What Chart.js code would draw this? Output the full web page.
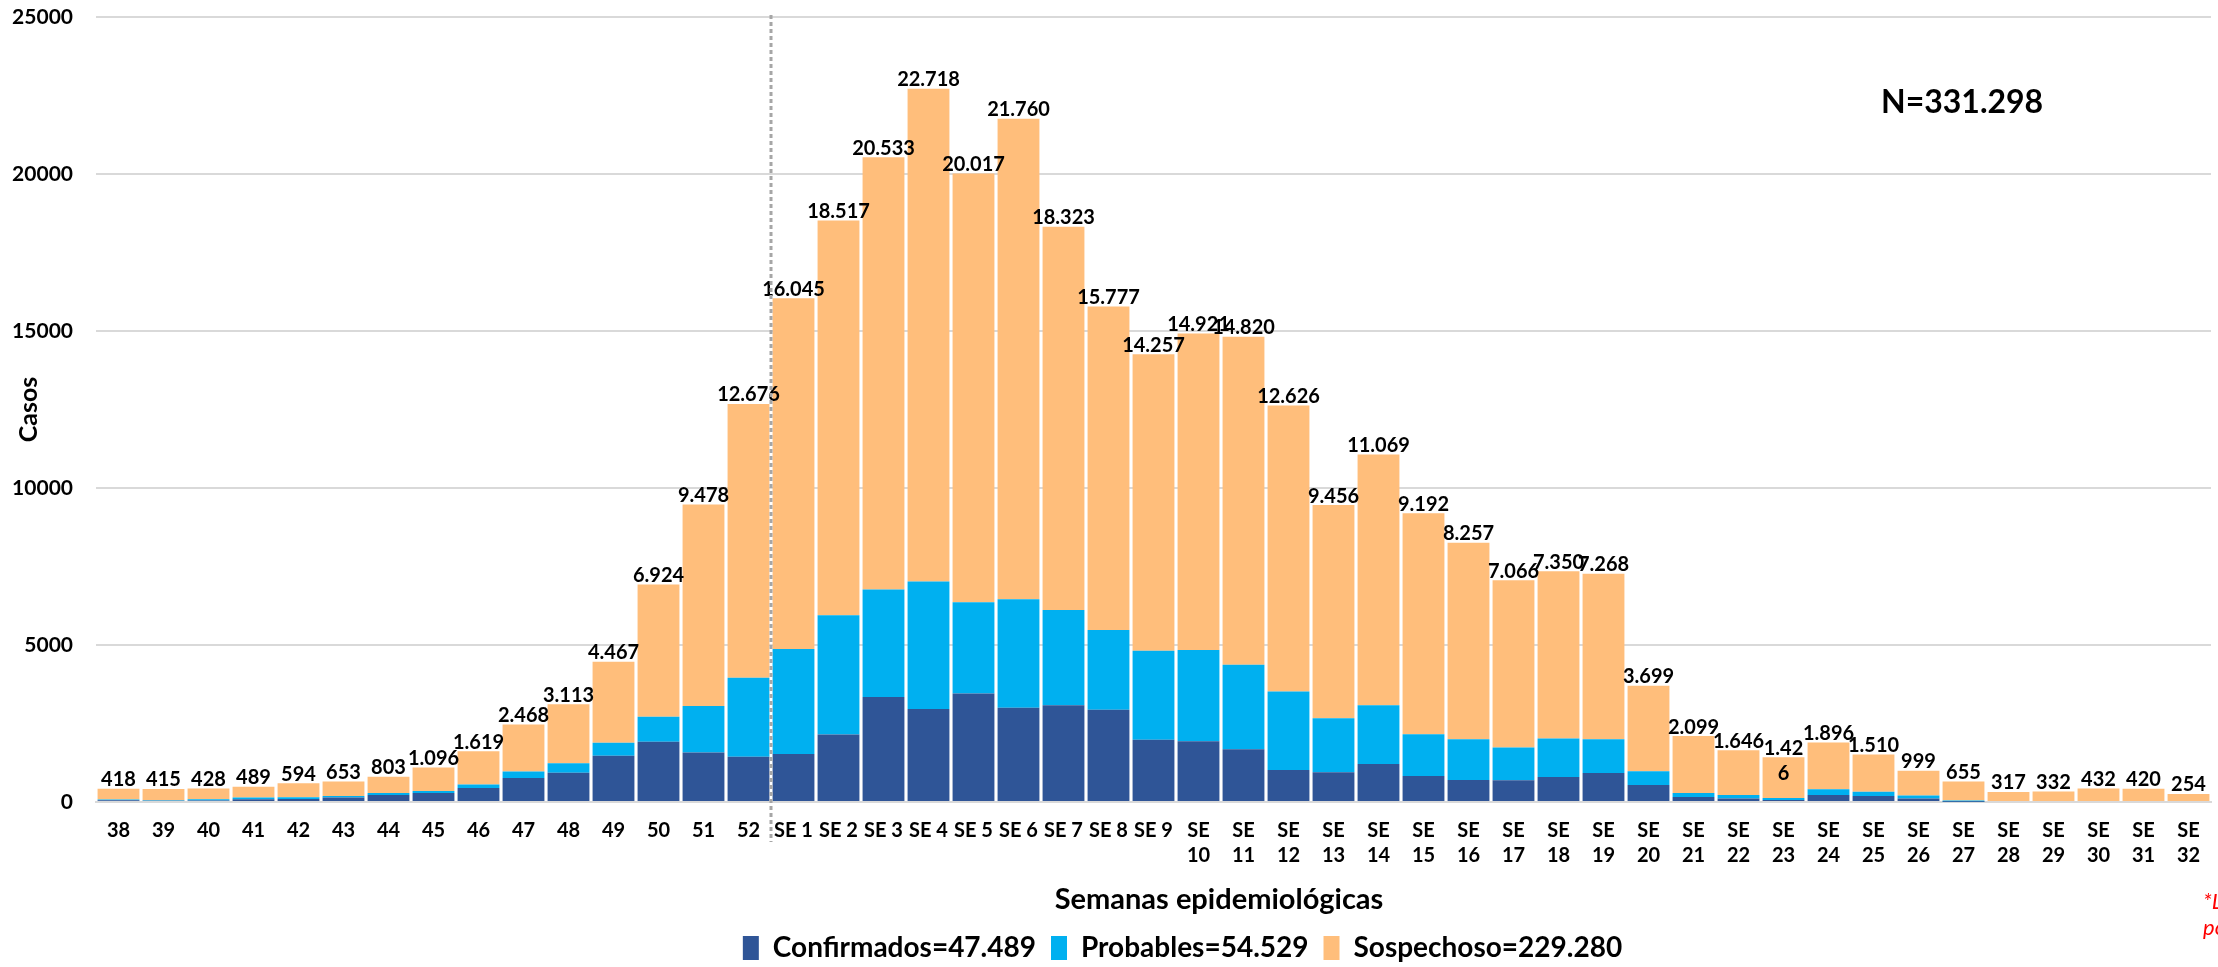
<!DOCTYPE html>
<html>
<head>
<meta charset="utf-8">
<script src="https://cdn.jsdelivr.net/npm/chart.js@4.4.1/dist/chart.umd.min.js"></script>
<style>
  html, body { margin: 0; padding: 0; background: #fff; }
  #wrap { width: 2218px; height: 967px; }
</style>
</head>
<body>
<div id="wrap"><canvas id="chart" width="2218" height="967"></canvas></div>
<script>
// Semanas epidemiológicas (38-52 del año anterior, SE 1 - SE 32)
const semanas = [
    '38', '39', '40', '41', '42', '43', '44', '45', '46', '47', '48', '49', '50', '51', '52',
    'SE 1', 'SE 2', 'SE 3', 'SE 4', 'SE 5', 'SE 6', 'SE 7', 'SE 8', 'SE 9',
    ['SE', '10'], ['SE', '11'], ['SE', '12'], ['SE', '13'], ['SE', '14'], ['SE', '15'],
    ['SE', '16'], ['SE', '17'], ['SE', '18'], ['SE', '19'], ['SE', '20'], ['SE', '21'],
    ['SE', '22'], ['SE', '23'], ['SE', '24'], ['SE', '25'], ['SE', '26'], ['SE', '27'],
    ['SE', '28'], ['SE', '29'], ['SE', '30'], ['SE', '31'], ['SE', '32']
];

const confirmados = [
    55, 40, 50, 85, 95, 140, 225, 285, 445, 765, 935, 1470, 1915, 1575, 1445,
    1530, 2150, 3340, 2965, 3455, 3000, 3085, 2935, 1980, 1935,
    1680, 1020, 945, 1210, 830, 700, 690, 800, 925, 540,
    160, 115, 65, 225, 190, 115, 10, 0, 0, 0, 0, 0
];

const probables = [
    25, 15, 40, 60, 55, 55, 65, 65, 115, 210, 300, 415, 800, 1480, 2515,
    3340, 3795, 3430, 4060, 2905, 3455, 3030, 2540, 2835, 2905,
    2690, 2500, 1725, 1875, 1330, 1300, 1045, 1220, 1075, 440,
    125, 110, 65, 180, 140, 95, 35, 0, 0, 0, 0, 0
];

const sospechosos = [
    338, 360, 338, 344, 444, 458, 513, 746, 1059, 1493, 1878, 2582, 4209, 6423, 8716,
    11175, 12572, 13763, 15693, 13657, 15305, 12208, 10302, 9442, 10081,
    10450, 9106, 6786, 7984, 7032, 6257, 5331, 5330, 5268, 2719,
    1814, 1421, 1296, 1491, 1180, 789, 610, 317, 332, 432, 420, 254
];

// total por semana (etiqueta sobre cada barra)
const totales = [
    418, 415, 428, 489, 594, 653, 803, 1096, 1619, 2468, 3113, 4467, 6924, 9478, 12676,
    16045, 18517, 20533, 22718, 20017, 21760, 18323, 15777, 14257, 14921,
    14820, 12626, 9456, 11069, 9192, 8257, 7066, 7350, 7268, 3699,
    2099, 1646, 1426, 1896, 1510, 999, 655, 317, 332, 432, 420, 254
];

const yTicks = [0, 5000, 10000, 15000, 20000, 25000];

const FONT = 'Lato, "Open Sans", sans-serif';
const COLORS = {
    confirmados: '#2F5597',
    probables: '#00B0F0',
    sospechosos: '#FFBE7B'
};

function miles(n) {
    return String(n).replace(/\B(?=(\d{3})+(?!\d))/g, '.');
}

// etiquetas de total sobre las barras
const totalLabels = {
    id: 'totalLabels',
    afterDatasetsDraw(chart) {
        const ctx = chart.ctx;
        const meta = chart.getDatasetMeta(2);
        ctx.save();
        ctx.font = 'bold 20px ' + FONT;
        ctx.fillStyle = '#000';
        ctx.textAlign = 'center';
        meta.data.forEach((bar, i) => {
            const txt = miles(totales[i]);
            if (txt === '1.426') {
                ctx.textBaseline = 'bottom';
                ctx.fillText('1.42', bar.x, bar.y + 1);
                ctx.textBaseline = 'middle';
                ctx.fillText('6', bar.x, bar.y + 16);
            } else {
                ctx.textBaseline = 'bottom';
                ctx.fillText(txt, bar.x, bar.y + 1);
            }
        });
        ctx.restore();
    }
};

// linea punteada que separa los años + textos sueltos
const extras = {
    id: 'extras',
    afterDatasetsDraw(chart) {
        const ctx = chart.ctx;
        const x = chart.scales.x;
        const area = chart.chartArea;
        const sepX = (x.getPixelForValue(14) + x.getPixelForValue(15)) / 2;

        ctx.save();
        ctx.strokeStyle = '#A6A6A6';
        ctx.lineWidth = 3;
        ctx.setLineDash([4, 3]);
        ctx.beginPath();
        ctx.moveTo(sepX, area.top - 2);
        ctx.lineTo(sepX, area.bottom + 40);
        ctx.stroke();
        ctx.setLineDash([]);

        ctx.fillStyle = '#000';
        ctx.font = 'bold 32px ' + FONT;
        ctx.textAlign = 'left';
        ctx.textBaseline = 'middle';
        ctx.fillText('N=331.298', 1881, 103);

        ctx.font = 'bold 29px ' + FONT;
        ctx.textAlign = 'center';
        ctx.fillText('Semanas epidemiológicas', 1219, 900);

        ctx.fillStyle = '#FF0000';
        ctx.font = 'italic 22px ' + FONT;
        ctx.textAlign = 'left';
        ctx.fillText('*Los datos de las últimas semanas', 2203, 902);
        ctx.fillText('podrían variar', 2203, 928);
        ctx.restore();
    }
};

// mover la leyenda a la posición del original
const legendShift = {
    id: 'legendShift',
    afterLayout(chart) {
        const lg = chart.legend;
        if (!lg) return;
        lg.left += 77;
        lg.right += 77;
        lg.top += 5;
        lg.bottom += 5;
    }
};

const canvas = document.getElementById('chart');

new Chart(canvas, {
    type: 'bar',
    data: {
        labels: semanas,
        datasets: [
            {
                label: 'Confirmados=47.489',
                data: confirmados,
                backgroundColor: COLORS.confirmados
            },
            {
                label: 'Probables=54.529',
                data: probables,
                backgroundColor: COLORS.probables
            },
            {
                label: 'Sospechoso=229.280',
                data: sospechosos,
                backgroundColor: COLORS.sospechosos
            }
        ]
    },
    options: {
        responsive: false,
        animation: false,
        layout: {
            padding: { top: 17, right: 7, left: 0, bottom: 0 }
        },
        datasets: {
            bar: {
                barPercentage: 0.93,
                categoryPercentage: 1.0,
                borderWidth: 0
            }
        },
        plugins: {
            tooltip: { enabled: false },
            legend: {
                display: true,
                position: 'bottom',
                labels: {
                    color: '#000',
                    boxWidth: 16,
                    boxHeight: 24,
                    padding: 15,
                    font: { family: FONT, size: 28, weight: 'bold' }
                }
            }
        },
        scales: {
            x: {
                stacked: true,
                afterFit: (scale) => {
                    scale.height = 112;
                    scale.paddingLeft = 0;
                    scale.paddingRight = 0;
                },
                grid: { display: false, drawTicks: false },
                border: { display: true, color: '#D9D9D9', width: 2 },
                ticks: {
                    color: '#000',
                    padding: 16,
                    autoSkip: false,
                    maxRotation: 0,
                    minRotation: 0,
                    font: { family: FONT, size: 20, weight: 'bold', lineHeight: 1.25 }
                }
            },
            y: {
                stacked: true,
                min: 0,
                max: 25000,
                afterFit: (scale) => {
                    scale.width = 96;
                    scale.paddingTop = 0;
                    scale.paddingBottom = 0;
                },
                afterBuildTicks: (scale) => {
                    scale.ticks = yTicks.map(v => ({ value: v }));
                },
                grid: { color: '#D9D9D9', lineWidth: 2, drawTicks: false },
                border: { display: false },
                title: {
                    display: true,
                    text: 'Casos',
                    color: '#000',
                    padding: { top: 14, bottom: 0 },
                    font: { family: FONT, size: 25, weight: 'bold' }
                },
                ticks: {
                    color: '#000',
                    padding: 23,
                    callback: (v) => String(v),
                    font: { family: FONT, size: 21, weight: 'bold' }
                }
            }
        }
    },
    plugins: [totalLabels, extras, legendShift]
});
</script>
</body>
</html>
